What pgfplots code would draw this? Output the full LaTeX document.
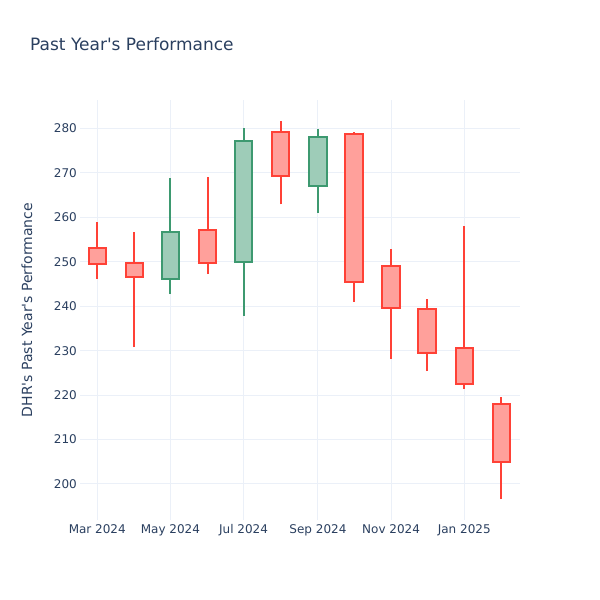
\documentclass[border=0pt]{standalone}
\usepackage{fontspec}
\setmainfont{DejaVu Sans}
\usepackage{pgfplots}
\pgfplotsset{compat=1.18}
\definecolor{txt}{HTML}{2A3F5F}
\definecolor{gridc}{HTML}{EBF0F8}
\definecolor{upline}{HTML}{3D9970}
\definecolor{upfill}{RGB}{158,204,184}
\definecolor{dnline}{HTML}{FF4136}
\definecolor{dnfill}{RGB}{255,160,155}
% one candle: #1 days since 1 Mar 2024, #2 low, #3 body bottom, #4 body top, #5 high, #6 style
\newcommand{\candle}[6]{%
  \addplot[#6line] coordinates {(#1,#2) (#1,#5)};
  \addplot[#6line, fill=#6fill, x filter/.expression={x+#1}]
    coordinates {(-7.25,#3) (7.25,#3) (7.25,#4) (-7.25,#4)} -- cycle;}
\begin{document}
\begin{tikzpicture}
\useasboundingbox (0,0) rectangle (600bp,600bp);
\begin{axis}[
    at={(80bp,80bp)}, anchor=south west,
    scale only axis, width=440bp, height=420bp,
    xmin=-14.4, xmax=352.5, ymin=191.9, ymax=286.4,
    axis line style={draw=none},
    major tick length=0pt,
    xtick={0,61,122,184,245,306},
    xticklabels={Mar 2024,May 2024,Jul 2024,Sep 2024,Nov 2024,Jan 2025},
    ytick={200,210,...,280},
    grid=major,
    major grid style={draw=gridc, line width=1bp},
    /pgf/number format/assume math mode=true,
    tick label style={font=\fontsize{12bp}{14bp}\selectfont, text=txt},
    yticklabel style={inner sep=0pt, xshift=-3bp},
    xticklabel style={inner sep=0pt, yshift=-4bp},
    every axis plot/.append style={line width=2bp, line join=miter},
]
\candle{0}{246.2}{249.6}{253.0}{258.9}{dn}
\candle{31}{230.8}{246.5}{249.7}{256.6}{dn}
\candle{61}{242.7}{246.1}{256.7}{268.8}{up}
\candle{92}{247.2}{249.8}{257.2}{269.0}{dn}
\candle{122}{237.9}{249.9}{277.1}{280.1}{up}
\candle{153}{262.9}{269.2}{279.2}{281.6}{dn}
\candle{184}{261.0}{267.0}{278.0}{279.8}{up}
\candle{214}{241.0}{245.5}{278.7}{279.2}{dn}
\candle{245}{228.1}{239.6}{249.0}{252.9}{dn}
\candle{275}{225.4}{229.5}{239.4}{241.6}{dn}
\candle{306}{221.4}{222.6}{230.7}{258.1}{dn}
\candle{337}{196.6}{204.9}{217.9}{219.6}{dn}
\end{axis}
\node[anchor=west, inner sep=0pt, text=txt, font=\fontsize{17bp}{20bp}\selectfont]
    at (30bp,556bp) {Past Year\textquotesingle s Performance};
\node[rotate=90, inner sep=0pt, text=txt, font=\fontsize{14bp}{16bp}\selectfont]
    at (27bp,290bp) {DHR\textquotesingle s Past Year\textquotesingle s Performance};
\end{tikzpicture}
\end{document}
